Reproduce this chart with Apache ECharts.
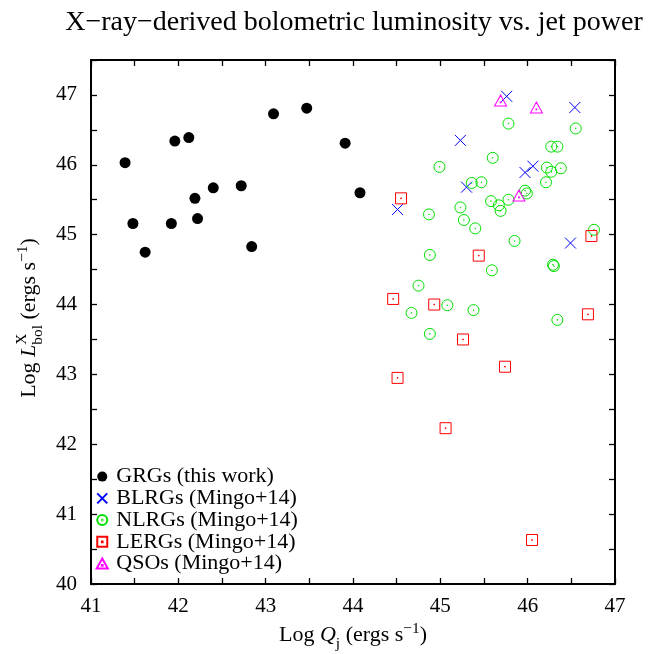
<!DOCTYPE html>
<html><head><meta charset="utf-8">
<script src="https://cdn.jsdelivr.net/npm/echarts@6/dist/echarts.min.js"></script>
<style>html,body{margin:0;padding:0;background:#fff}#c{width:655px;height:654px}</style>
</head><body><div id="c"></div>
<script>
// ---- data ----
const xTickLabels = [41, 42, 43, 44, 45, 46, 47];
const yTickLabels = [40, 41, 42, 43, 44, 45, 46, 47];
const seriesNames = ['GRGs (this work)', 'BLRGs (Mingo+14)', 'NLRGs (Mingo+14)', 'LERGs (Mingo+14)', 'QSOs (Mingo+14)'];
const grgPoints = [
  [41.39, 46.03], [41.48, 45.16], [41.62, 44.75], [41.92, 45.16], [41.96, 46.34],
  [42.12, 46.39], [42.19, 45.52], [42.22, 45.23], [42.40, 45.67], [42.72, 45.70],
  [42.84, 44.83], [43.09, 46.73], [43.47, 46.81], [43.91, 46.31], [44.08, 45.60]
];
const blrgPoints = [
  [45.76, 46.98], [46.54, 46.82], [45.23, 46.35], [46.06, 45.98],
  [45.97, 45.89], [45.30, 45.68], [44.51, 45.36], [46.49, 44.88]
];
const nlrgPoints = [
  [44.99, 45.97], [45.78, 46.59], [46.55, 46.52], [46.27, 46.26], [46.34, 46.26],
  [45.60, 46.10], [46.22, 45.96], [46.27, 45.90], [46.38, 45.95], [46.21, 45.75],
  [45.36, 45.74], [45.47, 45.75], [45.97, 45.63], [45.99, 45.59], [45.58, 45.48],
  [45.67, 45.42], [45.78, 45.50], [45.69, 45.34], [45.23, 45.39], [44.87, 45.29],
  [45.27, 45.21], [45.40, 45.09], [46.76, 45.07], [45.85, 44.91], [44.88, 44.71],
  [45.59, 44.49], [46.29, 44.57], [46.30, 44.55], [44.75, 44.27], [45.08, 43.99],
  [44.67, 43.88], [45.38, 43.92], [46.34, 43.78], [44.88, 43.58]
];
const lergPoints = [
  [44.55, 45.52], [45.44, 44.70], [46.73, 44.98], [44.46, 44.08], [44.93, 44.00],
  [46.69, 43.86], [45.26, 43.50], [45.74, 43.11], [44.51, 42.95], [45.06, 42.23],
  [46.05, 40.63]
];
const qsoPoints = [
  [45.69, 46.92], [46.10, 46.82], [45.90, 45.56]
];

// ---- style ----
const FONT = "'Liberation Serif', 'DejaVu Serif', 'Times New Roman', serif";
const SYM_CROSS = 'path://M0,0L20,20M20,0L0,20';
const SYM_RING = 'path://M0,10A10,10 0 1,1 20,10A10,10 0 1,1 0,10Z M9.3,10A0.7,0.7 0 1,1 10.7,10A0.7,0.7 0 1,1 9.3,10Z';
const SYM_SQUARE = 'path://M0,0L20,0L20,20L0,20Z M9.3,9.3L10.7,9.3L10.7,10.7L9.3,10.7Z';
const SYM_TRI = 'path://M10,0L20,18L0,18Z M9.3,11.3L10.7,11.3L10.7,12.7L9.3,12.7Z';

const mctx = document.createElement('canvas').getContext('2d');
function tw(t, size, italic) {
  mctx.font = (italic ? 'italic ' : '') + size + 'px ' + FONT;
  return mctx.measureText(t).width;
}
// build a math-like label from parts, baseline at local y=0, centered at x=0
function mathLabel(parts, size) {
  let x = 0, lastStart = 0;
  const els = [];
  parts.forEach(p => {
    const s = size * (p.scale || 1);
    const w = tw(p.t, s, p.it);
    let px = p.stack ? lastStart : x;
    const base = (p.dy || 0) * size;
    els.push({
      type: 'text', x: px, y: base - 0.34 * s,
      style: { text: p.t, fontSize: s, fontFamily: FONT, fontStyle: p.it ? 'italic' : 'normal',
               fill: '#000', align: 'left', verticalAlign: 'middle' }
    });
    if (p.stack) { x = Math.max(x, px + w); }
    else { lastStart = px; x = px + w; }
  });
  els.forEach(e => { e.x -= x / 2; });
  return els;
}

const xNameParts = [
  { t: 'Log ' }, { t: 'Q', it: true }, { t: 'j', scale: 0.7, dy: 0.28 },
  { t: ' (ergs s' }, { t: '\u22121', scale: 0.7, dy: -0.42 }, { t: ')' }
];
const yNameParts = [
  { t: 'Log ' }, { t: 'L', it: true }, { t: 'X', scale: 0.7, dy: -0.45 },
  { t: 'bol', scale: 0.7, dy: 0.28, stack: true },
  { t: ' (ergs s' }, { t: '\u22121', scale: 0.7, dy: -0.42 }, { t: ')' }
];

const labelFmt = arr => v => (arr.indexOf(Math.round(v * 1000) / 1000) >= 0 ? String(v) : '');
const axisLine = { show: true, onZero: false, lineStyle: { color: '#000', width: 2 } };
const axisTick = { show: true, inside: true, length: 6, lineStyle: { color: '#000', width: 1.3 } };
const tickFont = { fontFamily: FONT, fontSize: 21, color: '#000' };

const chart = echarts.init(document.getElementById('c'), null, { renderer: 'canvas' });
chart.setOption({
  backgroundColor: '#fff',
  animation: false,
  grid: { left: 91, right: 40, top: 60, bottom: 70, containLabel: false },
  xAxis: [
    { type: 'value', min: 41, max: 47, interval: 0.5, position: 'bottom',
      axisLine, axisTick, splitLine: { show: false },
      axisLabel: Object.assign({ margin: 12, formatter: labelFmt(xTickLabels) }, tickFont) },
    { type: 'value', min: 41, max: 47, interval: 0.5, position: 'top',
      axisLine, axisTick, splitLine: { show: false }, axisLabel: { show: false } }
  ],
  yAxis: [
    { type: 'value', min: 40, max: 47.5, interval: 0.5, position: 'left',
      axisLine, axisTick, splitLine: { show: false },
      axisLabel: Object.assign({ margin: 14, formatter: labelFmt(yTickLabels) }, tickFont) },
    { type: 'value', min: 40, max: 47.5, interval: 0.5, position: 'right',
      axisLine, axisTick, splitLine: { show: false }, axisLabel: { show: false } }
  ],
  legend: {
    orient: 'vertical', left: 95.7, top: 465.6, padding: 0,
    itemWidth: 14, itemHeight: 10, itemGap: -0.25,
    textStyle: { fontFamily: FONT, fontSize: 22, color: '#000', padding: [0, 0, 0, 2] },
    data: seriesNames
  },
  graphic: [
    { type: 'text', x: 354, y: 23,
      style: { text: 'X\u2212ray\u2212derived bolometric luminosity vs. jet power', fontSize: 28, fontFamily: FONT,
               fill: '#000', align: 'center', verticalAlign: 'middle' } },
    { type: 'group', x: 353, y: 643, children: mathLabel(xNameParts, 22) },
    { type: 'group', x: 37, y: 318, rotation: Math.PI / 2, children: mathLabel(yNameParts, 22) }
  ],
  series: [
    { name: seriesNames[0], type: 'scatter', data: grgPoints, symbol: 'circle', symbolSize: 11,
      itemStyle: { color: '#000', opacity: 1 } },
    { name: seriesNames[1], type: 'scatter', data: blrgPoints, symbol: SYM_CROSS, symbolSize: 11,
      itemStyle: { color: 'rgba(0,0,0,0)', borderColor: '#0000ff', borderWidth: 1, opacity: 1 } },
    { name: seriesNames[2], type: 'scatter', data: nlrgPoints, symbol: SYM_RING, symbolSize: 11,
      itemStyle: { color: 'rgba(0,0,0,0)', borderColor: '#00e000', borderWidth: 1, opacity: 1 } },
    { name: seriesNames[3], type: 'scatter', data: lergPoints, symbol: SYM_SQUARE, symbolSize: 11,
      itemStyle: { color: 'rgba(0,0,0,0)', borderColor: '#ff0000', borderWidth: 1, opacity: 1 } },
    { name: seriesNames[4], type: 'scatter', data: qsoPoints, symbol: SYM_TRI, symbolSize: [12, 11],
      itemStyle: { color: 'rgba(0,0,0,0)', borderColor: '#ff00ff', borderWidth: 1, opacity: 1 } }
  ]
});
</script></body></html>
